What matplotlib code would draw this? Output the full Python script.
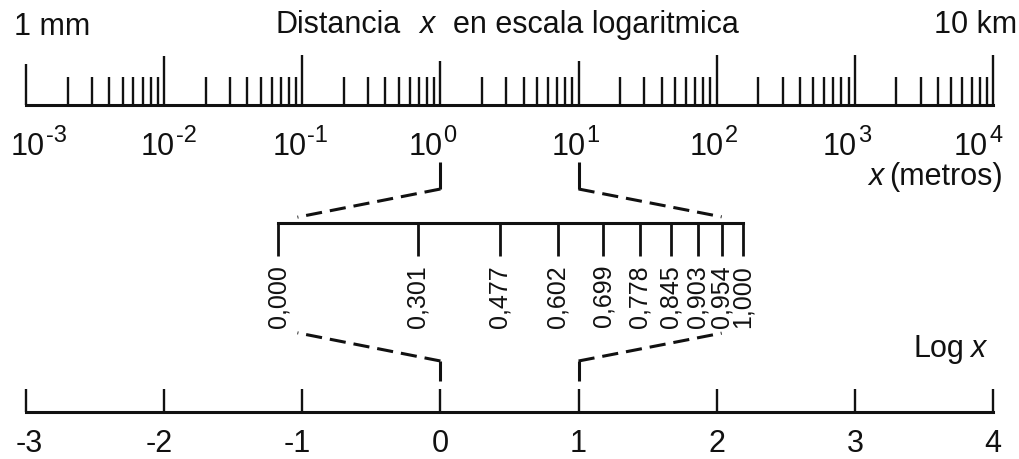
import matplotlib
matplotlib.use("Agg")
import numpy as np
import matplotlib.pyplot as plt
from matplotlib.lines import Line2D
from matplotlib.ticker import FixedLocator, NullFormatter
from matplotlib.transforms import IdentityTransform

plt.rcParams['font.family'] = ['Liberation Sans', 'DejaVu Sans']
plt.rcParams['axes.unicode_minus'] = False

# ---- data -------------------------------------------------------------
decade_exponents = [-3, -2, -1, 0, 1, 2, 3, 4]          # x = 10**n metros
minor_multipliers = [2, 3, 4, 5, 6, 7, 8, 9]
log_axis_labels = ['-3', '-2', '-1', '0', '1', '2', '3', '4']
mantissa_values = [0.000, 0.301, 0.477, 0.602, 0.699, 0.778, 0.845, 0.903, 0.954, 1.000]
mantissa_labels = ['0,000', '0,301', '0,477', '0,602', '0,699',
                   '0,778', '0,845', '0,903', '0,954', '1,000']
expanded_decade = (1.0, 10.0)    # decade shown enlarged in the middle scale

# ---- figure -----------------------------------------------------------
W, H, DPI = 1019, 460, 100
fig = plt.figure(figsize=(W / DPI, H / DPI), dpi=DPI)
fig.patch.set_facecolor('white')
INK = '#111111'


def axes_at(x0, y_spine, width, height):
    """Axes whose bottom edge sits y_spine pixels below the top of the figure."""
    ax = fig.add_axes([x0 / W, 1 - y_spine / H, width / W, height / H])
    for side in ('top', 'left', 'right'):
        ax.spines[side].set_visible(False)
    ax.spines['bottom'].set_linewidth(2.2)
    ax.spines['bottom'].set_color(INK)
    ax.yaxis.set_visible(False)
    ax.patch.set_visible(False)
    ax.set_ylim(0, 1)
    return ax


# top scale: distance on a log axis
ax_top = axes_at(26, 106, 967, 60)
ax_top.set_xscale('log')
ax_top.set_xlim(10.0 ** decade_exponents[0], 10.0 ** decade_exponents[-1])
ax_top.xaxis.set_major_locator(FixedLocator([10.0 ** e for e in decade_exponents]))
ax_top.xaxis.set_minor_locator(FixedLocator(
    [m * 10.0 ** e for e in decade_exponents[:-1] for m in minor_multipliers]))
ax_top.xaxis.set_minor_formatter(NullFormatter())
ax_top.tick_params(axis='x', which='major', direction='in', length=36,
                   width=1.7, color=INK, labelbottom=False)
ax_top.tick_params(axis='x', which='minor', direction='in', length=20,
                   width=1.7, color=INK, labelbottom=False)
major_tick_len_px = [41, 49, 50, 44, 44, 50, 50, 50]
for tick, L in zip(ax_top.xaxis.get_major_ticks(), major_tick_len_px):
    tick.tick1line.set_markersize(L * 72 / DPI)

label_split_px = [19, 11, 4, 2, 7, 7, 2, -5]
for e, dx in zip(decade_exponents, label_split_px):
    ax_top.annotate('10', xy=(10.0 ** e, 0), xycoords=('data', 'axes fraction'),
                    xytext=(dx, -49), textcoords='offset pixels',
                    ha='right', va='baseline', fontsize=22, color=INK)
    ax_top.annotate(str(e), xy=(10.0 ** e, 0), xycoords=('data', 'axes fraction'),
                    xytext=(dx + 1, -36), textcoords='offset pixels',
                    ha='left', va='baseline', fontsize=17, color=INK)

# middle scale: log10 of 1..10
ax_mid = axes_at(278, 224, 465, 40)
ax_mid.set_xlim(0, 1)
ax_mid.set_xticks(mantissa_values)
ax_mid.set_xticklabels(mantissa_labels, rotation=90, fontsize=18, color=INK)
ax_mid.tick_params(axis='x', direction='out', length=24, width=2.0,
                   color=INK, pad=5.5)

# bottom scale: Log x on a linear axis
ax_bot = axes_at(26, 413, 967, 40)
ax_bot.set_xlim(decade_exponents[0], decade_exponents[-1])
ax_bot.set_xticks(decade_exponents)
ax_bot.tick_params(axis='x', direction='in', length=16.5, width=1.7,
                   color=INK, labelbottom=False)
for v, lab in zip(decade_exponents, log_axis_labels):
    dx = 16.5 if v == decade_exponents[0] else 8.5
    ax_bot.annotate(lab, xy=(v, 0), xycoords=('data', 'axes fraction'),
                    xytext=(dx, -39), textcoords='offset pixels',
                    ha='right', va='baseline', fontsize=22, color=INK)

# ---- connectors between the scales ------------------------------------
def xpix(ax, v):
    return ax.transData.transform((v, 0))[0]


def seg(x, y, dashed=False):
    ln = Line2D(x, [H - yy for yy in y], transform=IdentityTransform(),
                color=INK, lw=2.2, solid_capstyle='butt')
    if dashed:
        ln.set_linestyle((0, (5.3, 2.6)))
    fig.add_artist(ln)


def toward(p, q, frac):
    return (p[0] + (q[0] - p[0]) * frac, p[1] + (q[1] - p[1]) * frac)


x_lo_top, x_hi_top = xpix(ax_top, expanded_decade[0]), xpix(ax_top, expanded_decade[1])
x_lo_bot, x_hi_bot = xpix(ax_bot, np.log10(expanded_decade[0])), xpix(ax_bot, np.log10(expanded_decade[1]))
x_m0, x_m1 = xpix(ax_mid, 0.0), xpix(ax_mid, 1.0)

for xt, xb, xm, frac in ((x_lo_top, x_lo_bot, x_m0, 0.88), (x_hi_top, x_hi_bot, x_m1, 0.87)):
    # upper link
    seg([xt, xt], [163, 190])
    end = toward((xt, 190), (xm, 222), frac)
    seg([xt, end[0]], [190, end[1]], dashed=True)
    # lower link
    seg([xb, xb], [362, 382])
    end = toward((xb, 362), (xm, 330), frac)
    seg([xb, end[0]], [362, end[1]], dashed=True)

# ---- captions ---------------------------------------------------------
def ftext(x, y, s, **kw):
    kw.setdefault('fontsize', 22)
    kw.setdefault('color', INK)
    kw.setdefault('va', 'baseline')
    fig.text(x / W, 1 - y / H, s, **kw)


ftext(14, 35, '1 mm', ha='left')
ftext(275.5, 33, 'Distancia', ha='left')
ftext(419, 33, 'x', ha='left', style='italic')
ftext(453, 33, 'en escala logaritmica', ha='left')
ftext(1017, 33, '10 km', ha='right')
ftext(883, 185, 'x', ha='right', style='italic')
ftext(1003, 185, '(metros)', ha='right')
ftext(913, 357, 'Log', ha='left')
ftext(970, 357, 'x', ha='left', style='italic')

fig.savefig('out.png', dpi=DPI, facecolor='white')
